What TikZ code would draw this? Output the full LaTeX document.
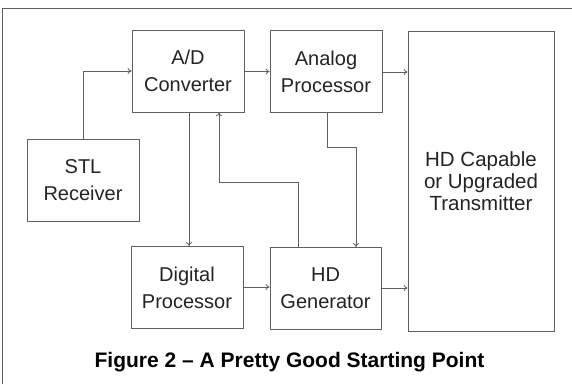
\documentclass[tikz,border=0pt]{standalone}
\usepackage{fontspec}
\setmainfont{Liberation Sans}
\usetikzlibrary{arrows.meta}
\definecolor{linegray}{RGB}{95,95,95}
\definecolor{textgray}{RGB}{35,35,35}
\begin{document}
\begin{tikzpicture}[x=1pt,y=-1pt,
  blk/.style={draw=linegray,line width=0.8pt,minimum width=112pt,minimum height=82pt,
    inner sep=0pt,align=center,text=textgray,font=\fontsize{20}{27}\selectfont},
  conn/.style={draw=linegray,line width=0.8pt,-{To[length=4pt,width=6pt]}},
  plain/.style={draw=linegray,line width=0.8pt}]
\useasboundingbox (0,0) rectangle (572,384);
\draw[plain] (2,384) -- (2,8) -- (572,8);
\node[blk] (AD) at (188,71) {A/D\\Converter};
\node[blk] (AP) at (326,71.5) {Analog\\Processor};
\node[blk,minimum width=146pt,minimum height=300pt,font=\fontsize{20.5}{22}\selectfont] (TX) at (481,181) {HD Capable\\or Upgraded\\Transmitter};
\node[blk] (STL) at (83,180.5) {STL\\Receiver};
\node[blk] (DP) at (187,287.5) {Digital\\Processor};
\node[blk,minimum width=111pt] (HD) at (325.5,288.5) {HD\\Generator};
\coordinate (c1) at (83,71);
\draw[conn] (STL.north) -- (c1) -- (AD.west |- c1);
\draw[conn] (AD.east |- 0,71.5) -- (AP.west |- 0,71.5);
\draw[conn] (AP.east |- 0,72) -- (TX.west |- 0,72);
\coordinate (c2) at (189,112);
\draw[conn] (c2 |- AD.south) -- (c2 |- DP.north);
\draw[conn] (DP.east |- 0,287) -- (HD.west |- 0,287);
\draw[conn] (HD.east |- 0,288) -- (TX.west |- 0,288);
\coordinate (c3) at (298,182);
\coordinate (c4) at (219,182);
\draw[conn] (c3 |- HD.north) -- (c3) -- (c4) -- (c4 |- AD.south);
\coordinate (c5) at (327,147);
\coordinate (c6) at (356,147);
\draw[conn] (c5 |- AP.south) -- (c5) -- (c6) -- (c6 |- HD.north);
\node[font=\bfseries\fontsize{21}{24}\selectfont,text=black,anchor=base] (cap) at (289.5,367) {Figure 2 – A Pretty Good Starting Point};
\end{tikzpicture}
\end{document}
